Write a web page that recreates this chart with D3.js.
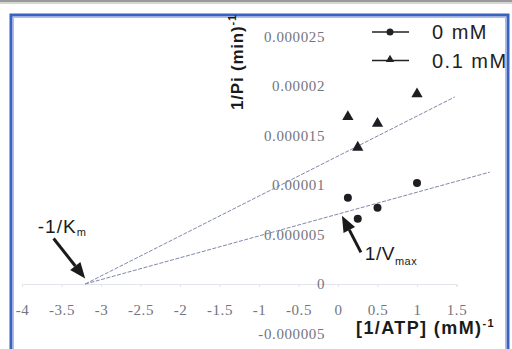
<!DOCTYPE html>
<html><head><meta charset="utf-8">
<script src="https://cdn.jsdelivr.net/npm/d3@7"></script>
<style>
body{margin:0;background:#fff;overflow:hidden}
.serif{font-family:"Liberation Serif","Times New Roman",serif}
.sans{font-family:"Liberation Sans",Arial,sans-serif}
</style>
</head><body>
<svg id="c" width="512" height="349"></svg>
<script>
// ---- data ----
const xTicks = [-4, -3.5, -3, -2.5, -2, -1.5, -1, -0.5, 0, 0.5, 1, 1.5];
const xTickLabels = ["-4", "-3.5", "-3", "-2.5", "-2", "-1.5", "-1", "-0.5", "0", "0.5", "1", "1.5"];
const yTicks = [-0.000005, 0, 0.000005, 0.00001, 0.000015, 0.00002, 0.000025];
const yTickLabels = ["-0.000005", "0", "0.000005", "0.00001", "0.000015", "0.00002", "0.000025"];
const invATP = [0.125, 0.25, 0.5, 1];
const series0mM = [8.7e-6, 6.6e-6, 7.7e-6, 10.2e-6];
const series01mM = [16.9e-6, 13.8e-6, 16.2e-6, 19.2e-6];
const seriesNames = ["0 mM", "0.1 mM"];
const fit0X = [-3.2, 1.92], fit0Y = [0, 11.3e-6];
const fit01X = [-3.2, 1.48], fit01Y = [0, 18.9e-6];

const svg = d3.select("#c");
const x = d3.scaleLinear().domain([-4, 1.5]).range([22, 456.5]);
const y = d3.scaleLinear().domain([-0.000005, 0.000025]).range([333.5, 36.5]);

// top gray strip and blue frame
svg.append("rect").attr("x", 0).attr("y", 0).attr("width", 512).attr("height", 2).attr("fill", "#9a9a9a");
svg.append("rect").attr("x", 0).attr("y", 2).attr("width", 512).attr("height", 2).attr("fill", "#d6d6d6");
svg.append("rect").attr("x", 11).attr("y", 15).attr("width", 497).attr("height", 360)
  .attr("fill", "none").attr("stroke", "#3a62c2").attr("stroke-width", 3);
svg.append("rect").attr("x", 13.5).attr("y", 17.5).attr("width", 492).attr("height", 360)
  .attr("fill", "none").attr("stroke", "#aebfe6").attr("stroke-width", 1);

// axes
const xAxis = d3.axisBottom(x).tickValues(xTicks).tickSize(3).tickPadding(17)
  .tickFormat((d, i) => xTickLabels[i]);
const gx = svg.append("g").attr("transform", `translate(0,${y(0)})`).call(xAxis);
gx.attr("font-family", null);
gx.select(".domain").attr("stroke", "#e2e4ea");
gx.selectAll(".tick line").attr("stroke", "#e2e4ea");
gx.selectAll("text").attr("class", "serif").attr("fill", "#74747e")
  .attr("font-size", 15).attr("letter-spacing", 0.6);

const yAxis = d3.axisLeft(y).tickValues(yTicks).tickSize(0).tickPadding(13)
  .tickFormat((d, i) => yTickLabels[i]);
const gy = svg.append("g").attr("transform", `translate(${x(0)},0)`).call(yAxis);
gy.attr("font-family", null);
gy.select(".domain").attr("stroke", "none");
gy.selectAll("text").attr("class", "serif").attr("fill", "#74747e")
  .attr("font-size", 15).attr("letter-spacing", 0.6);

// trend lines
const line = d3.line().x(d => x(d[0])).y(d => y(d[1]));
[[fit0X, fit0Y], [fit01X, fit01Y]].forEach(([fx, fy]) => {
  svg.append("path").datum(fx.map((v, i) => [v, fy[i]])).attr("d", line)
    .attr("fill", "none").attr("stroke", "#8088aa").attr("stroke-width", 1)
    .attr("stroke-dasharray", "4,1.5");
});

// points
svg.selectAll("circle.p0").data(invATP).enter().append("circle")
  .attr("cx", d => x(d)).attr("cy", (d, i) => y(series0mM[i])).attr("r", 4).attr("fill", "#1e1e22");
const tri = d3.symbol().type(d3.symbolTriangle).size(55);
svg.selectAll("path.p1").data(invATP).enter().append("path")
  .attr("d", tri).attr("transform", (d, i) => `translate(${x(d)},${y(series01mM[i])})`).attr("fill", "#1e1e22");

// legend
const lg = svg.append("g");
[0, 1].forEach(i => {
  const ly = 32 + i * 28.5;
  lg.append("line").attr("x1", 372).attr("x2", 409).attr("y1", ly).attr("y2", ly)
    .attr("stroke", "#222").attr("stroke-width", 1.5);
  if (i === 0) lg.append("circle").attr("cx", 390).attr("cy", ly).attr("r", 3.5).attr("fill", "#222");
  else lg.append("path").attr("d", d3.symbol().type(d3.symbolTriangle).size(30)).attr("transform", `translate(390,${ly - 1})`).attr("fill", "#222");
  lg.append("text").attr("class", "sans").attr("x", 432).attr("y", ly + 7).text(seriesNames[i])
    .attr("font-size", 20).attr("letter-spacing", 1.5).attr("fill", "#222");
});

// axis titles
const yt = svg.append("text").attr("class", "sans").attr("transform", `translate(243,110) rotate(-90)`)
  .attr("font-weight", "bold").attr("font-size", 17).attr("letter-spacing", 0.8).attr("fill", "#1a1a1a");
yt.append("tspan").text("1/Pi (min)");
yt.append("tspan").text("-1").attr("font-size", 11).attr("dy", -7);

const xt = svg.append("text").attr("class", "sans").attr("x", 356).attr("y", 334)
  .attr("font-weight", "bold").attr("font-size", 18).attr("letter-spacing", 1.4).attr("fill", "#1a1a1a");
xt.append("tspan").text("[1/ATP] (mM)");
xt.append("tspan").text("-1").attr("font-size", 11).attr("dy", -7);

// annotations
function arrow(x1, y1, x2, y2) {
  const a = Math.atan2(y2 - y1, x2 - x1), L = 16, W = 6.5;
  const bx = x2 - L * Math.cos(a), by = y2 - L * Math.sin(a);
  svg.append("line").attr("x1", x1).attr("y1", y1).attr("x2", bx).attr("y2", by)
    .attr("stroke", "#1a1a1a").attr("stroke-width", 3);
  svg.append("path").attr("d", `M${x2},${y2}L${bx + W * Math.sin(a)},${by - W * Math.cos(a)}L${bx - W * Math.sin(a)},${by + W * Math.cos(a)}Z`)
    .attr("fill", "#1a1a1a");
}
arrow(x(-3.6), y(4.6e-6), x(-3.2), y(0.55e-6));
arrow(x(0.29), y(3.2e-6), x(0.05), y(6.9e-6));

const km = svg.append("text").attr("class", "sans").attr("x", x(-3.8)).attr("y", y(5.15e-6))
  .attr("font-size", 19).attr("letter-spacing", 1).attr("fill", "#1a1a1a");
km.append("tspan").text("-1/K");
km.append("tspan").text("m").attr("font-size", 11).attr("dy", 3);

const vm = svg.append("text").attr("class", "sans").attr("x", x(0.34)).attr("y", y(2.4e-6))
  .attr("font-size", 19).attr("letter-spacing", 0.5).attr("fill", "#1a1a1a");
vm.append("tspan").text("1/V");
vm.append("tspan").text("max").attr("font-size", 11).attr("dy", 5);
</script>
</body></html>
